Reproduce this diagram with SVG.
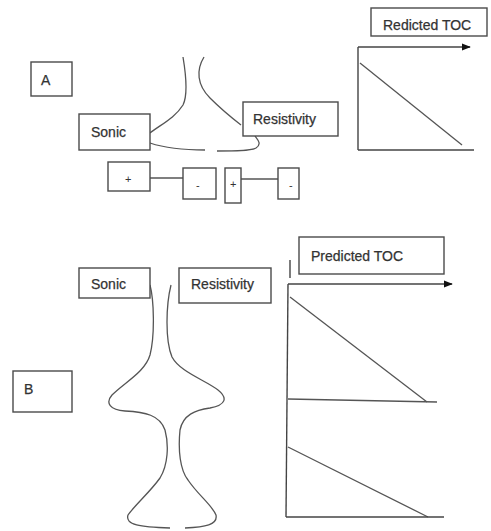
<svg xmlns="http://www.w3.org/2000/svg" width="491" height="531" viewBox="0 0 491 531">
<style>
.box{fill:#fff;stroke:#4a4a4a;stroke-width:1.4}
.t{font-family:"Liberation Sans",Arial,sans-serif;font-size:14px;fill:#333;stroke:#333;stroke-width:0.25}
.s{font-family:"Liberation Sans",Arial,sans-serif;font-size:11px;fill:#333}
.c{fill:none;stroke:#555;stroke-width:1.3}
.ax{fill:none;stroke:#444;stroke-width:1.4}
</style>
<defs>
<marker id="arr" viewBox="0 0 10 10" refX="9" refY="5" markerWidth="9" markerHeight="9" markerUnits="userSpaceOnUse" orient="auto">
<path d="M0,1 L10,5 L0,9 z" fill="#111"/>
</marker>
</defs>
<rect width="491" height="531" fill="#fff"/>
<g id="connectors">
<path class="c" d="M183,57 C186,75 188,95 183,105 C175,118 160,125 150,133"/>
<path class="c" d="M204,57 C196,70 197,85 210,98 C222,110 232,118 241,125"/>
<path class="c" d="M150,143 C165,148 185,150 205,150"/>
<path class="c" d="M217,151 C235,151 250,151 256,148 C262,144 258,140 255,136"/>
<line class="c" x1="150" y1="178" x2="183" y2="178"/>
<line class="c" x1="241" y1="179" x2="278" y2="179"/>
<path class="c" d="M150,285 C154,300 155,335 150,355 C145,372 125,382 112,395 C105,403 110,410 125,411 C145,412 160,415 165,430 C169,445 168,465 160,478 C150,492 135,505 128,515 C125,525 140,527 170,528"/>
<path class="c" d="M171,285 C166,305 165,340 172,357 C180,372 205,380 218,390 C228,398 226,405 210,408 C195,410 183,415 180,430 C178,450 180,470 188,480 C198,495 212,505 216,515 C218,525 205,527 185,528"/>
</g>
<g id="graphA">
<line class="ax" x1="358" y1="47" x2="470" y2="47" marker-end="url(#arr)"/>
<line class="ax" x1="358" y1="47" x2="358" y2="150"/>
<line class="ax" x1="358" y1="150" x2="474" y2="150"/>
<line class="c" x1="360" y1="63" x2="462" y2="145"/>
</g>
<g id="graphB">
<line class="ax" x1="290" y1="260" x2="290" y2="278"/>
<line class="ax" x1="288" y1="284" x2="452" y2="284" marker-end="url(#arr)"/>
<line class="ax" x1="288" y1="284" x2="286" y2="517"/>
<line class="c" x1="290" y1="297" x2="427" y2="402"/>
<line class="c" x1="288" y1="399" x2="437" y2="402"/>
<line class="c" x1="288" y1="447" x2="428" y2="517"/>
<line class="ax" x1="286" y1="517" x2="444" y2="517"/>
</g>
<g id="labelA"><rect class="box" x="31" y="62" width="41" height="34"/><text class="t" x="41" y="85">A</text></g>
<g id="sonicA"><rect class="box" x="79" y="114" width="71" height="36"/><text class="t" x="91" y="137">Sonic</text></g>
<g id="resistivityA"><rect class="box" x="243" y="102" width="95" height="34"/><text class="t" x="253" y="124">Resistivity</text></g>
<g id="redictedTOC"><rect class="box" x="371" y="8" width="116" height="28"/><text class="t" x="383" y="30">Redicted TOC</text></g>
<g id="plus1"><rect class="box" x="108" y="162" width="42" height="29"/><text class="s" x="125" y="183">+</text></g>
<g id="minus1"><rect class="box" x="183" y="168" width="33" height="31"/><text class="s" x="196" y="189">-</text></g>
<g id="plus2"><rect class="box" x="225" y="168" width="16" height="35"/><text class="s" x="230" y="188">+</text></g>
<g id="minus2"><rect class="box" x="278" y="168" width="21" height="31"/><text class="s" x="289" y="189">-</text></g>
<g id="sonicB"><rect class="box" x="79" y="268" width="71" height="30"/><text class="t" x="91" y="289">Sonic</text></g>
<g id="resistivityB"><rect class="box" x="179" y="268" width="92" height="35"/><text class="t" x="191" y="289">Resistivity</text></g>
<g id="predictedTOC"><rect class="box" x="299" y="237" width="145" height="37"/><text class="t" x="311" y="261">Predicted TOC</text></g>
<g id="labelB"><rect class="box" x="13" y="371" width="59" height="41"/><text class="t" x="24" y="394">B</text></g>
</svg>
